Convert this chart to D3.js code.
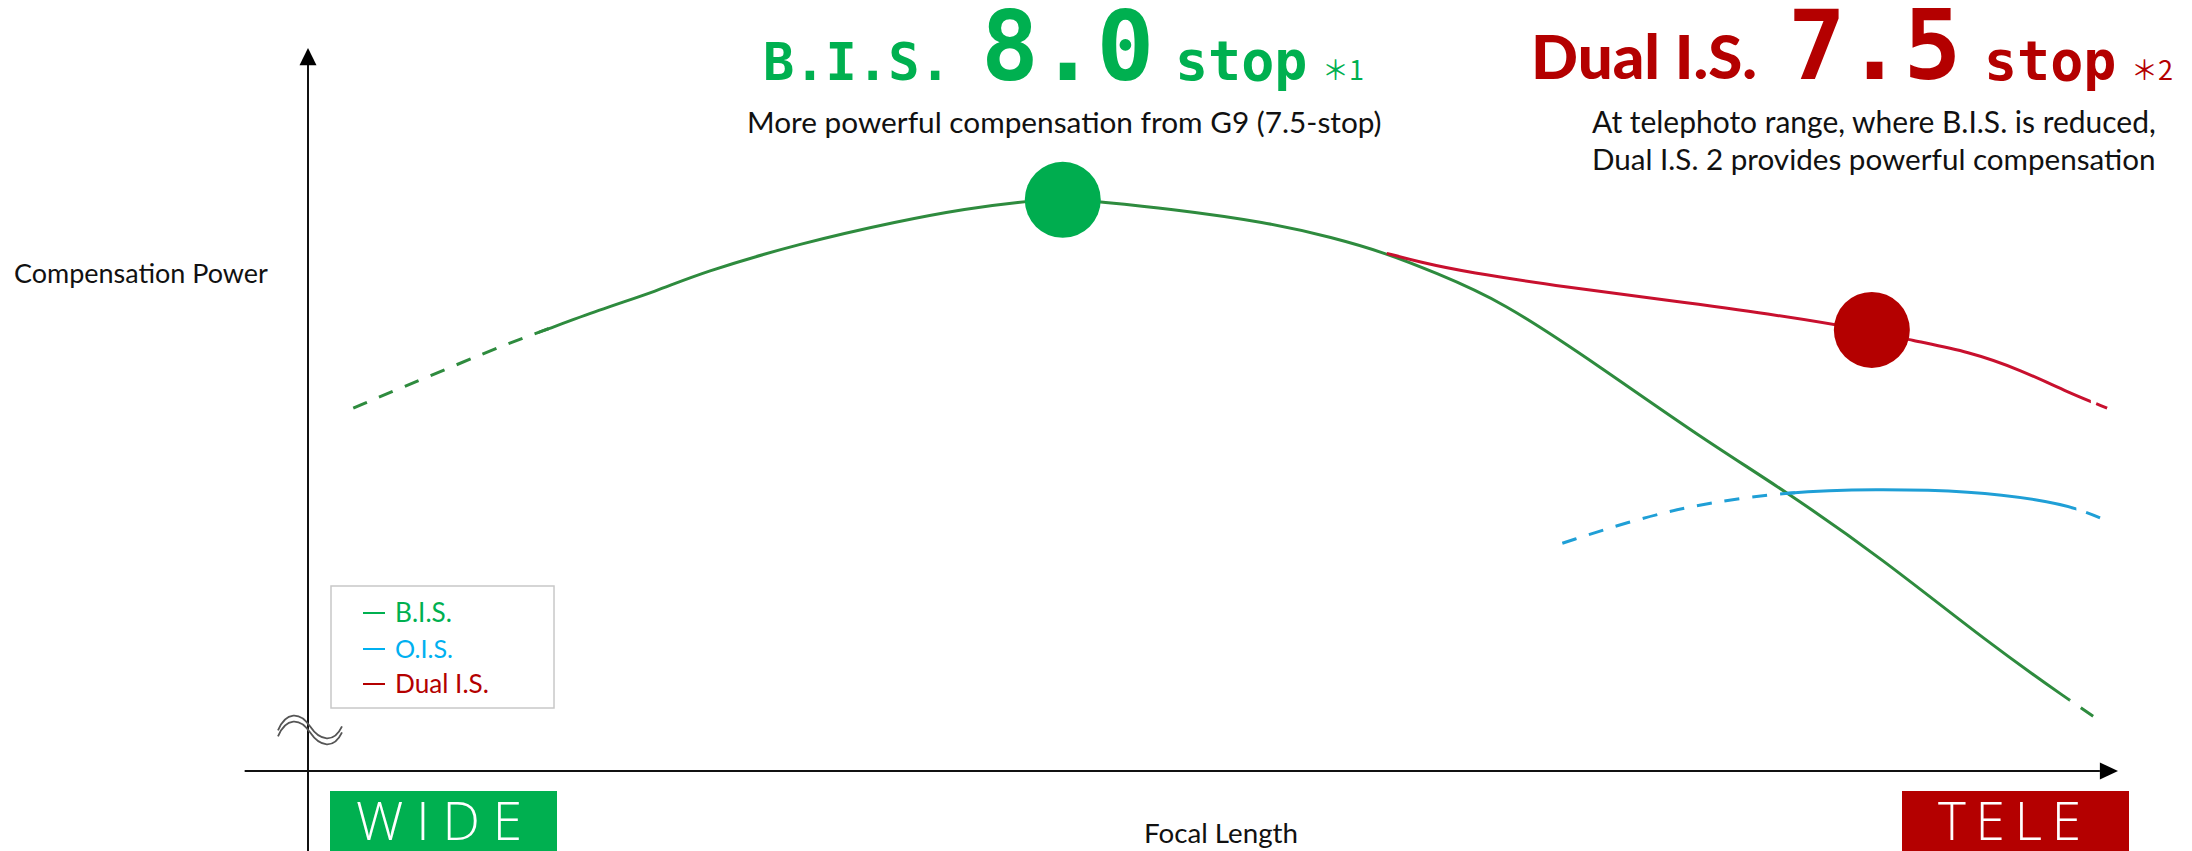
<!DOCTYPE html>
<html>
<head>
<meta charset="utf-8">
<script src="https://cdn.jsdelivr.net/npm/d3@7"></script>
<style>
  html, body { margin: 0; padding: 0; background: #fff; }
  svg { display: block; }
</style>
</head>
<body>
<svg id="chart" width="2192" height="851"></svg>
<script>
// ---------------- DATA ----------------
// x: focal length position (0 = wide end at axis, 100 = tele end), y: compensation power (arbitrary units)
const bisX  = [2.5, 6.2, 11.1, 12.7, 16.1, 19.3, 21.7, 27.2, 32.7, 36.4, 39.3, 41.7, 43.8, 47.5, 53.0, 56.6, 59.6, 62.2, 65.9, 71.4, 76.9, 81.7, 86.9, 92.8, 97.3, 99.1];
const bisY  = [50.2, 54.1, 59.2, 60.6, 63.8, 66.4, 68.9, 73.0, 76.1, 77.8, 78.7, 79.2, 78.7, 77.8, 75.9, 73.8, 71.6, 69.0, 65.1, 55.9, 46.2, 38.6, 29.5, 17.8, 9.8, 6.8];
const oisX  = [69.3, 73.6, 77.3, 81.7, 86.5, 92.0, 95.7, 97.7, 99.6];
const oisY  = [31.5, 35.0, 37.1, 38.6, 39.0, 38.7, 37.5, 36.4, 34.4];
const dualX = [59.6, 61.4, 64.0, 69.6, 75.1, 80.6, 86.4, 88.5, 91.8, 94.6, 97.3, 99.4];
const dualY = [71.6, 70.4, 69.0, 66.9, 65.1, 63.3, 60.9, 59.6, 58.0, 55.5, 52.3, 50.2];
// dashed (extrapolated) x-ranges for each series
const bisDashed  = [[0, 12.7], [97.3, 100]];
const oisDashed  = [[0, 81.7], [97.7, 100]];
const dualDashed = [[98.5, 100]];
// highlighted points
const peakNames = ["B.I.S.", "Dual I.S."];
const peakX = [41.7, 86.4];
const peakY = [79.0, 61.0];
// legend / labels
const legendLabels = ["B.I.S.", "O.I.S.", "Dual I.S."];
const axisLabelY = "Compensation Power";
const axisLabelX = "Focal Length";
const endLabels = ["WIDE", "TELE"];

// ---------------- STYLE ----------------
const C_GREEN = "#00b050", C_RED = "#b40000", C_BLUE = "#00b0f0";
const L_GREEN = "#2e8b3e", L_RED = "#c8102e", L_BLUE = "#1f9fd6";

const svg = d3.select("#chart");
const x = d3.scaleLinear().domain([0, 100]).range([308, 2118]);
const y = d3.scaleLinear().domain([0, 100]).range([771, 48]);

const defs = svg.append("defs");

// ---------- Axes ----------
const axisG = svg.append("g");
axisG.append("line").attr("x1", x(0)).attr("x2", x(0)).attr("y1", y(97.7)).attr("y2", 851)
  .attr("stroke", "#111").attr("stroke-width", 2);
axisG.append("path")
  .attr("d", `M${x(0)},${y(100)} L${x(0) - 8.5},${y(97.6)} L${x(0) + 8.5},${y(97.6)} Z`)
  .attr("fill", "#000");
axisG.append("line").attr("x1", x(-3.5)).attr("x2", x(99)).attr("y1", y(0)).attr("y2", y(0))
  .attr("stroke", "#111").attr("stroke-width", 2);
axisG.append("path")
  .attr("d", `M${x(100)},${y(0)} L${x(99)},${y(0) - 8.5} L${x(99)},${y(0) + 8.5} Z`)
  .attr("fill", "#000");

// break symbol (double tilde) across y axis
const bx = x(0), by = y(5.9);
[0, 6].forEach(off => {
  axisG.append("path")
    .attr("d", `M${bx - 30},${by + 2 + off} C${bx - 22},${by - 17 + off} ${bx - 8},${by - 17 + off} ${bx + 2},${by - 2 + off} C${bx + 12},${by + 13 + off} ${bx + 26},${by + 15 + off} ${bx + 34},${by - 2 + off}`)
    .attr("fill", "none").attr("stroke", "#555").attr("stroke-width", 1.8);
});

// ---------- Curves ----------
const line = d3.line().x(d => x(d[0])).y(d => y(d[1])).curve(d3.curveBasis);

function drawSeries(xs, ys, dashed, color, id) {
  const pts = xs.map((v, i) => [v, ys[i]]);
  const cd = defs.append("clipPath").attr("id", id + "-d");
  dashed.forEach(r => cd.append("rect").attr("x", x(r[0])).attr("y", 0)
    .attr("width", x(r[1]) - x(r[0]) + 20).attr("height", 851));
  const cs = defs.append("clipPath").attr("id", id + "-s");
  let edges = [-20];
  dashed.forEach(r => { edges.push(r[0]); edges.push(r[1]); });
  edges.push(140);
  for (let i = 0; i < edges.length; i += 2) {
    const a = edges[i], b = edges[i + 1];
    if (b > a) cs.append("rect").attr("x", x(a)).attr("y", 0).attr("width", x(b) - x(a)).attr("height", 851);
  }
  svg.append("path").datum(pts).attr("d", line)
    .attr("fill", "none").attr("stroke", color).attr("stroke-width", 3)
    .attr("clip-path", `url(#${id}-s)`);
  svg.append("path").datum(pts).attr("d", line)
    .attr("fill", "none").attr("stroke", color).attr("stroke-width", 3)
    .attr("stroke-dasharray", "15,13")
    .attr("clip-path", `url(#${id}-d)`);
}
drawSeries(bisX, bisY, bisDashed, L_GREEN, "bis");
drawSeries(oisX, oisY, oisDashed, L_BLUE, "ois");
drawSeries(dualX, dualY, dualDashed, L_RED, "dual");

// peak markers
svg.selectAll("circle.peak").data(peakNames).join("circle")
  .attr("class", "peak")
  .attr("cx", (d, i) => x(peakX[i])).attr("cy", (d, i) => y(peakY[i]))
  .attr("r", 38)
  .attr("fill", (d, i) => i === 0 ? "#00ad4f" : C_RED);

// ---------- Text helpers ----------
function fitWidth(sel, w) {
  const len = sel.node().getComputedTextLength();
  const fs = parseFloat(sel.attr("font-size"));
  sel.attr("font-size", fs * w / len);
  return sel;
}
function spaceTo(sel, w) {
  const txt = sel.text();
  const len = sel.node().getComputedTextLength();
  sel.attr("letter-spacing", (w - len) / (txt.length - 1));
  return sel;
}
const SANS = "Lato, 'Open Sans', sans-serif";
const MONO = "'DejaVu Sans Mono', monospace";

// axis labels
fitWidth(svg.append("text").attr("x", 14).attr("y", 283).attr("font-family", SANS)
  .attr("font-size", 26).attr("fill", "#111").text(axisLabelY), 254);
fitWidth(svg.append("text").attr("x", 1144).attr("y", 843).attr("font-family", SANS)
  .attr("font-size", 26).attr("fill", "#111").text(axisLabelX), 154);

// ---------- Legend ----------
svg.append("rect").attr("x", 331).attr("y", 586).attr("width", 223).attr("height", 122)
  .attr("fill", "#fff").attr("stroke", "#c8c8c8").attr("stroke-width", 1.5);
const legColors = [C_GREEN, C_BLUE, C_RED];
const legY = [613, 649, 684];
const legWidths = [57, 58, 94];
legendLabels.forEach((lab, i) => {
  svg.append("line").attr("x1", 363).attr("x2", 385).attr("y1", legY[i]).attr("y2", legY[i])
    .attr("stroke", legColors[i]).attr("stroke-width", 2);
  fitWidth(svg.append("text").attr("x", 395).attr("y", legY[i] + 9).attr("font-family", SANS)
    .attr("font-size", 26).attr("fill", legColors[i]).text(lab), legWidths[i]);
});

// ---------- WIDE / TELE boxes ----------
svg.append("rect").attr("x", 330).attr("y", 791).attr("width", 227).attr("height", 70).attr("fill", C_GREEN);
svg.append("rect").attr("x", 1902).attr("y", 791).attr("width", 227).attr("height", 70).attr("fill", C_RED);
spaceTo(svg.append("text").attr("x", 356).attr("y", 840).attr("font-family", "'Open Sans', sans-serif")
  .attr("font-weight", 300).attr("font-size", 53).attr("fill", "#fff").text(endLabels[0]), 166);
spaceTo(svg.append("text").attr("x", 1938).attr("y", 840).attr("font-family", "'Open Sans', sans-serif")
  .attr("font-weight", 300).attr("font-size", 53).attr("fill", "#fff").text(endLabels[1]), 143);

// ---------- Titles ----------
const tg = svg.append("g");
tg.append("text").attr("x", 763).attr("y", 80).attr("font-family", MONO).attr("font-weight", 700)
  .attr("font-size", 52).attr("fill", C_GREEN).text("B.I.S.");
tg.append("text").attr("x", 981).attr("y", 80).attr("font-family", MONO).attr("font-weight", 700)
  .attr("font-size", 96).attr("fill", C_GREEN).text("8.0");
tg.append("text").attr("x", 1175).attr("y", 80).attr("font-family", MONO).attr("font-weight", 700)
  .attr("font-size", 55).attr("fill", C_GREEN).text("stop");
tg.append("text").attr("x", 1322).attr("y", 80).attr("font-family", "'Noto Sans CJK JP', sans-serif")
  .attr("font-weight", 400).attr("font-size", 27).attr("fill", C_GREEN).text("＊1");
fitWidth(tg.append("text").attr("x", 747).attr("y", 133).attr("font-family", SANS)
  .attr("font-size", 28).attr("fill", "#111").text("More powerful compensation from G9 (7.5-stop)"), 635);

fitWidth(tg.append("text").attr("x", 1531).attr("y", 79).attr("font-family", SANS).attr("font-weight", 900)
  .attr("font-size", 60).attr("fill", C_RED).text("Dual I.S."), 226);
tg.append("text").attr("x", 1788).attr("y", 79).attr("font-family", MONO).attr("font-weight", 700)
  .attr("font-size", 96).attr("fill", C_RED).text("7.5");
tg.append("text").attr("x", 1984).attr("y", 80).attr("font-family", MONO).attr("font-weight", 700)
  .attr("font-size", 55).attr("fill", C_RED).text("stop");
tg.append("text").attr("x", 2131).attr("y", 80).attr("font-family", "'Noto Sans CJK JP', sans-serif")
  .attr("font-weight", 400).attr("font-size", 27).attr("fill", C_RED).text("＊2");
fitWidth(tg.append("text").attr("x", 1592).attr("y", 133).attr("font-family", SANS)
  .attr("font-size", 28).attr("fill", "#111").text("At telephoto range, where B.I.S. is reduced,"), 564);
fitWidth(tg.append("text").attr("x", 1592).attr("y", 170).attr("font-family", SANS)
  .attr("font-size", 28).attr("fill", "#111").text("Dual I.S. 2 provides powerful compensation"), 564);
</script>
</body>
</html>
